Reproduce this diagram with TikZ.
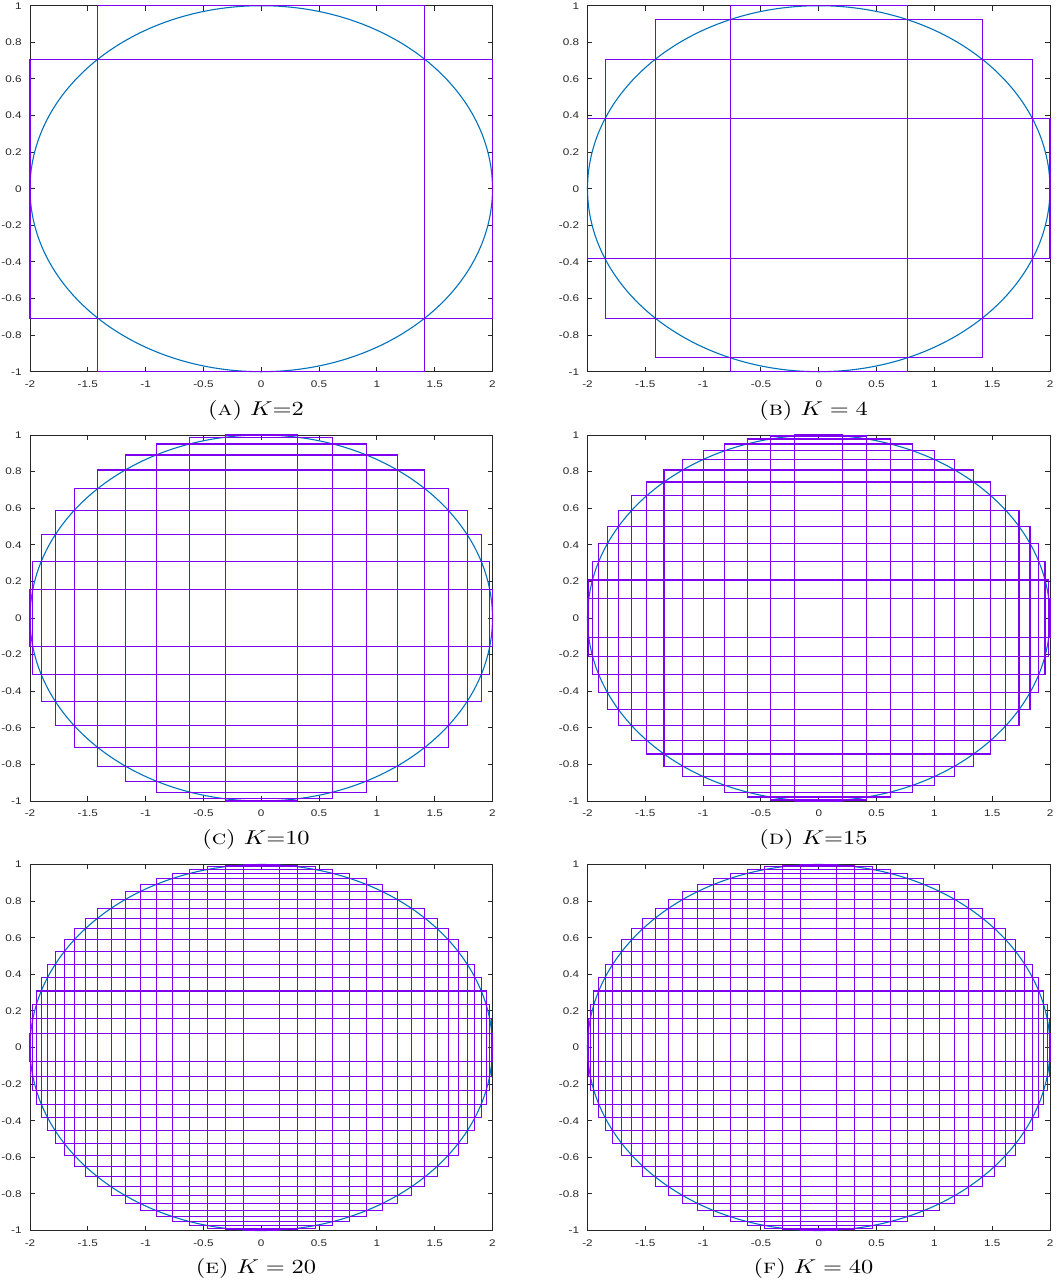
\documentclass[tikz,border=0pt]{standalone}
\usepackage{amsmath}
\usepackage{graphicx}
\usepackage{fontspec}
\newfontfamily\plotfont[FakeStretch=1.22]{Liberation Sans}
\usepackage{tikz}
\usetikzlibrary{calc}
\usepackage{xcolor}
\definecolor{ca}{HTML}{262626}
\definecolor{cb}{HTML}{0072BD}
\definecolor{cv}{HTML}{7F00EE}
\newcommand{\hstretch}[1]{\scalebox{1.22}[1]{#1}}

\begin{document}
\begin{tikzpicture}[x=0.5pt,y=-0.5pt,
    axisline/.style={draw=ca,line width=0.5pt},
    curve/.style={draw=cb,line width=0.55pt},
    cover/.style={draw=cv,line width=0.55pt},
    ticklab/.style={font=\plotfont\fontsize{4.8}{5}\selectfont,text=ca,inner sep=0pt},
    subcap/.style={font=\fontsize{10}{12}\selectfont,inner sep=0pt},
  ]
  \useasboundingbox (0,0) rectangle (1057,1285);
  \foreach \pn/\ox/\oy/\kk/\cap in {
      a/30/5.7/2/{(\textsc{a}) $K$=2},
      b/587.5/5.7/4/{(\textsc{b}) $K=4$},
      c/30/435/10/{(\textsc{c}) $K$=10},
      d/587.5/435/15/{(\textsc{d}) $K$=15},
      e/30/864.5/20/{(\textsc{e}) $K=20$},
      f/587.5/864.5/20/{(\textsc{f}) $K=40$}}{
    \begin{scope}[shift={(\ox+231.25,\oy+183)},x=57.8125pt,y=91.5pt]
      % axes box and ticks
      \draw[axisline] (-2,-1) rectangle (2,1);
      \foreach \t in {-1.5,-1,...,1.5}{
        \draw[axisline] (\t,-1) -- ++(0,2.4pt);
        \draw[axisline] (\t,1) -- ++(0,-2.4pt);
      }
      \foreach \t in {-0.8,-0.6,...,0.81}{
        \draw[axisline] (-2,\t) -- ++(2.4pt,0);
        \draw[axisline] (2,\t) -- ++(-2.4pt,0);
      }
      \foreach \t [count=\i] in {-2,-1.5,-1,-0.5,0,0.5,1,1.5,2}
        \node[ticklab,anchor=north,yshift=-4.4pt] (xt-\pn-\i) at (\t,-1) {\t};
      \foreach \t [count=\i] in {-1,-0.8,-0.6,-0.4,-0.2,0,0.2,0.4,0.6,0.8,1}
        \node[ticklab,anchor=east,xshift=-4pt] (yt-\pn-\i) at (-2,\t) {\t};
      % ellipse and covering rectangles
      \draw[curve] (0,0) ellipse [x radius=2, y radius=1];
      \foreach \k in {1,...,\kk}{
        \pgfmathsetmacro{\ra}{2*cos(90*(\k-1)/\kk)}
        \pgfmathsetmacro{\rb}{sin(90*\k/\kk)}
        \draw[cover] (-\ra,-\rb) rectangle (\ra,\rb);
      }
    \end{scope}
    \node[subcap] (cap-\pn) at (\ox+226,\oy+404.3) {\hstretch{\cap}};
  }
\end{tikzpicture}
\end{document}
